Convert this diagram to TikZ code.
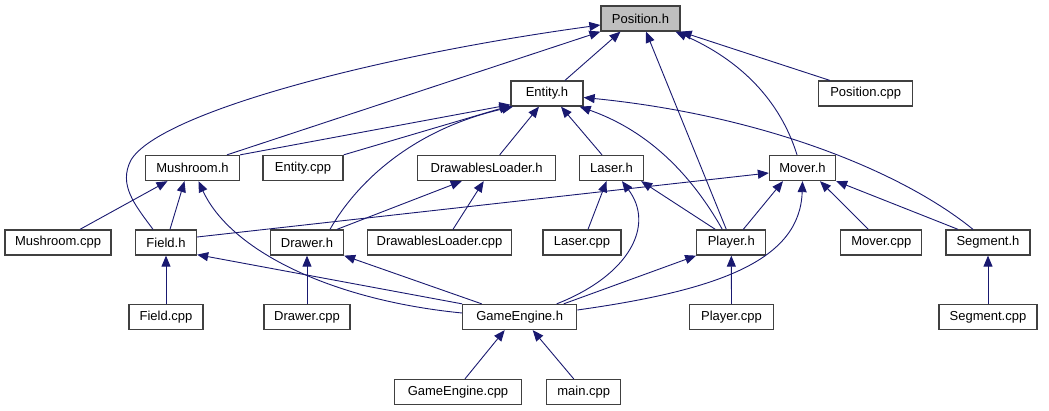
\documentclass[tikz,border=0pt]{standalone}
\usepackage{fontspec}
\setmainfont{Liberation Sans}
\usetikzlibrary{arrows.meta}
\definecolor{edgeblue}{HTML}{191970}
\definecolor{boxline}{HTML}{404040}
\definecolor{rootfill}{HTML}{BFBFBF}
\begin{document}
\begin{tikzpicture}[x=1pt,y=-1pt,
  file/.style={draw=boxline, line width=1.3pt, minimum height=25pt, minimum width=#1,
    inner sep=0pt, font=\fontsize{13}{15}\selectfont, fill=white},
  file/.default=60pt,
  dep/.style={draw=edgeblue, line width=0.9pt, -{Triangle[length=11pt,width=9pt]}}]
\useasboundingbox (0,0) rectangle (1049,411);
% nodes
\node[file=79pt, fill=rootfill] (pos) at (640.5,18.5) {Position.h};
\node[file=72pt] (ent) at (547,93.5) {Entity.h};
\node[file=94pt] (poscpp) at (865.7,93.5) {Position.cpp};
\node[file=94pt] (mush) at (192.5,168) {Mushroom.h};
\node[file=80pt] (entcpp) at (303,168) {Entity.cpp};
\node[file=138pt] (dl) at (486.7,168) {DrawablesLoader.h};
\node[file=64pt] (laser) at (611.5,168) {Laser.h};
\node[file=66pt] (mover) at (802.5,168) {Mover.h};
\node[file=106pt] (mushcpp) at (58,242.5) {Mushroom.cpp};
\node[file=61pt] (field) at (166,242.5) {Field.h};
\node[file=73pt] (drawer) at (307,242.5) {Drawer.h};
\node[file=144pt] (dlcpp) at (439.5,242.5) {DrawablesLoader.cpp};
\node[file=78pt] (lasercpp) at (582,242.5) {Laser.cpp};
\node[file=69pt] (player) at (731.3,242.5) {Player.h};
\node[file=81pt] (movercpp) at (881.3,242.5) {Mover.cpp};
\node[file=84pt] (seg) at (988,242.5) {Segment.h};
\node[file=74pt] (fieldcpp) at (166,317) {Field.cpp};
\node[file=86pt] (drawercpp) at (307,317) {Drawer.cpp};
\node[file=114pt] (ge) at (519.7,317) {GameEngine.h};
\node[file=84pt] (playercpp) at (731.5,317) {Player.cpp};
\node[file=98pt] (segcpp) at (988,317) {Segment.cpp};
\node[file=127pt] (gecpp) at (458,392) {GameEngine.cpp};
\node[file=74pt] (main) at (583.7,392) {main.cpp};
% edges to Position.h
\draw[dep] ([xshift=18pt]ent.north) -- ([xshift=-20pt]pos.south);
\draw[dep] ([xshift=34.5pt]mush.north) -- (pos.south west);
\draw[dep] ([xshift=-13pt]field.north) .. controls (135,205) and (118,185) .. (131,160)
  .. controls (160,112) and (380,55) .. ([yshift=-6.5pt]pos.west);
\draw[dep] ([xshift=-5pt]player.north) -- ([xshift=5.5pt]pos.south);
\draw[dep] ([xshift=-5.5pt]mover.north) .. controls (780,100) and (740,60) .. ([xshift=35pt]pos.south);
\draw[dep] ([xshift=-36pt]poscpp.north) -- (pos.south east);
% edges to Entity.h
\draw[dep] (mush.north east) -- ([yshift=2pt]ent.south west);
\draw[dep] (entcpp.north east) -- ([yshift=1pt]ent.south west);
\draw[dep] ([xshift=23pt]drawer.north) .. controls (355,185) and (410,130) .. ([xshift=-34pt]ent.south);
\draw[dep] ([xshift=13pt]dl.north) -- ([xshift=-8pt]ent.south);
\draw[dep] ([xshift=-9.5pt]laser.north) -- ([xshift=14pt]ent.south);
\draw[dep] ([xshift=-9pt]player.north) .. controls (700,190) and (660,135) .. ([xshift=-4pt]ent.south east);
\draw[dep] ([xshift=-15pt]seg.north) .. controls (900,170) and (760,115) .. ([yshift=-4pt]ent.east);
% edges to Mushroom.h
\draw[dep] ([xshift=22pt]mushcpp.north) -- ([xshift=-25pt]mush.south);
\draw[dep] ([xshift=4pt]field.north) -- ([xshift=-8pt]mush.south);
\draw[dep] ([yshift=4pt]ge.west) .. controls (330,300) and (230,250) .. ([xshift=6pt]mush.south);
% edges to Field.h
\draw[dep] (fieldcpp.north) -- (field.south);
\draw[dep] (ge.north west) -- ([yshift=1pt]field.south east);
% edges to Drawer.h / DrawablesLoader.h
\draw[dep] (drawercpp.north) -- (drawer.south);
\draw[dep] ([xshift=-38pt]ge.north) -- (drawer.south east);
\draw[dep] ([xshift=30pt]drawer.north) -- ([xshift=-25pt]dl.south);
\draw[dep] ([xshift=13.5pt]dlcpp.north) -- ([xshift=-3pt]dl.south);
% edges to Laser.h
\draw[dep] ([xshift=6pt]lasercpp.north) -- ([xshift=-5pt]laser.south);
\draw[dep] ([xshift=37pt]ge.north) .. controls (630,275) and (655,225) .. ([xshift=10.5pt]laser.south);
\draw[dep] ([xshift=-16pt]player.north) -- ([xshift=-3pt]laser.south east);
% edges to Player.h
\draw[dep] (playercpp.north) -- (player.south);
\draw[dep] ([xshift=44pt]ge.north) -- (player.south west);
% edges to Mover.h
\draw[dep] ([yshift=5.5pt]field.east) -- ([yshift=-5pt]mover.west);
\draw[dep] ([xshift=12pt]player.north) -- ([xshift=-19.5pt]mover.south);
\draw[dep] ([xshift=-13pt]movercpp.north) -- ([xshift=17.5pt]mover.south);
\draw[dep] ([xshift=-30pt]seg.north) -- (mover.south east);
\draw[dep] ([yshift=7pt]ge.east) .. controls (720,290) and (800,260) .. (mover.south);
% edges to Segment.h
\draw[dep] (segcpp.north) -- (seg.south);
% edges to GameEngine.h
\draw[dep] ([xshift=7pt]gecpp.north) -- ([xshift=-15pt]ge.south);
\draw[dep] ([xshift=-10pt]main.north) -- ([xshift=13pt]ge.south);
\end{tikzpicture}
\end{document}
